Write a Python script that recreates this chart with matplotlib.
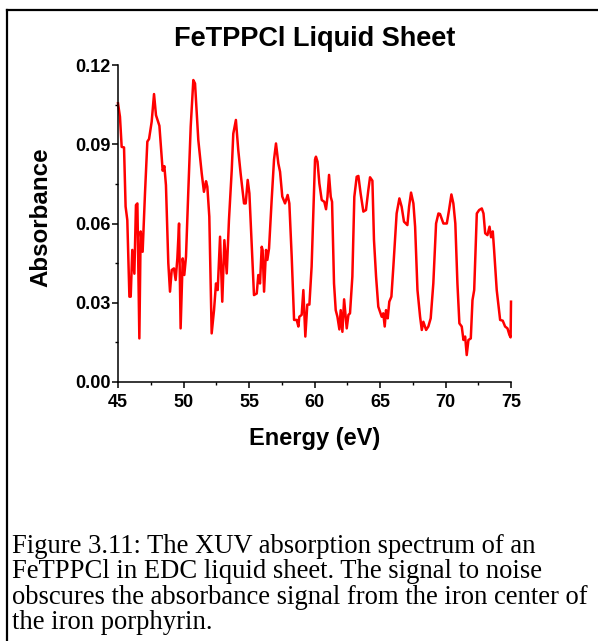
import matplotlib
matplotlib.use("Agg")
import matplotlib.pyplot as plt
from matplotlib.lines import Line2D
from matplotlib.ticker import MultipleLocator, FormatStrFormatter

# photon energy (eV) and absorbance of the FeTPPCl liquid sheet
energy = [
    45.00, 45.15, 45.28, 45.46, 45.58, 45.71, 45.87, 45.97, 46.09, 46.25,
    46.37, 46.48, 46.63, 46.73, 46.88, 47.06, 47.24, 47.37, 47.57, 47.75,
    47.90, 48.16, 48.41, 48.54, 48.66, 48.84, 48.97, 49.10, 49.27, 49.40,
    49.53, 49.66, 49.78, 49.94, 50.06, 50.19, 50.37, 50.55, 50.75, 50.88,
    51.13, 51.39, 51.56, 51.72, 51.82, 51.97, 52.15, 52.33, 52.48, 52.61,
    52.79, 52.96, 53.12, 53.30, 53.47, 53.68, 53.80, 54.00, 54.18, 54.36,
    54.62, 54.75, 54.90, 55.03, 55.20, 55.38, 55.59, 55.71, 55.84, 55.97,
    56.04, 56.15, 56.30, 56.40, 56.53, 56.73, 56.91, 57.06, 57.24, 57.37,
    57.54, 57.75, 57.95, 58.08, 58.26, 58.44, 58.64, 58.77, 58.84, 59.02,
    59.15, 59.30, 59.45, 59.61, 59.78, 60.04, 60.11, 60.23, 60.37, 60.55,
    60.75, 60.88, 60.99, 61.11, 61.24, 61.34, 61.49, 61.62, 61.75, 61.90,
    62.00, 62.13, 62.26, 62.46, 62.59, 62.71, 62.89, 63.04, 63.22, 63.35,
    63.52, 63.73, 63.93, 64.11, 64.24, 64.42, 64.54, 64.70, 64.87, 65.13,
    65.25, 65.36, 65.46, 65.59, 65.71, 65.87, 66.02, 66.27, 66.48, 66.65,
    66.83, 67.09, 67.22, 67.37, 67.55, 67.68, 67.86, 68.06, 68.19, 68.31,
    68.52, 68.69, 68.87, 69.07, 69.28, 69.46, 69.58, 69.84, 70.10, 70.27,
    70.45, 70.60, 70.75, 70.91, 71.06, 71.24, 71.37, 71.50, 71.62, 71.75,
    71.93, 72.06, 72.19, 72.39, 72.57, 72.77, 72.90, 73.03, 73.20, 73.36,
    73.48, 73.61, 73.71, 73.91, 74.17, 74.37, 74.55, 74.73, 74.88, 74.97,
    75.00,
]
absorbance = [
    0.1055, 0.1004, 0.0890, 0.0888, 0.0664, 0.0613, 0.0323, 0.0323, 0.0500, 0.0410,
    0.0670, 0.0676, 0.0165, 0.0570, 0.0493, 0.0714, 0.0910, 0.0920, 0.0985, 0.1090,
    0.1010, 0.0970, 0.0800, 0.0817, 0.0745, 0.0450, 0.0342, 0.0424, 0.0430, 0.0386,
    0.0468, 0.0600, 0.0203, 0.0468, 0.0405, 0.0474, 0.0727, 0.0967, 0.1143, 0.1130,
    0.0916, 0.0790, 0.0720, 0.0760, 0.0739, 0.0626, 0.0184, 0.0272, 0.0373, 0.0348,
    0.0550, 0.0304, 0.0537, 0.0411, 0.0613, 0.0800, 0.0940, 0.0992, 0.0878, 0.0790,
    0.0676, 0.0676, 0.0765, 0.0714, 0.0524, 0.0329, 0.0335, 0.0405, 0.0373, 0.0512,
    0.0500, 0.0342, 0.0500, 0.0462, 0.0506, 0.0689, 0.0842, 0.0903, 0.0827, 0.0796,
    0.0702, 0.0676, 0.0708, 0.0676, 0.0474, 0.0235, 0.0235, 0.0210, 0.0247, 0.0254,
    0.0348, 0.0172, 0.0293, 0.0293, 0.0437, 0.0842, 0.0853, 0.0834, 0.0752, 0.0689,
    0.0682, 0.0654, 0.0701, 0.0784, 0.0701, 0.0682, 0.0373, 0.0272, 0.0247, 0.0199,
    0.0272, 0.0190, 0.0313, 0.0203, 0.0254, 0.0260, 0.0399, 0.0701, 0.0777, 0.0780,
    0.0714, 0.0645, 0.0651, 0.0727, 0.0775, 0.0762, 0.0538, 0.0399, 0.0285, 0.0247,
    0.0260, 0.0210, 0.0272, 0.0241, 0.0304, 0.0323, 0.0437, 0.0638, 0.0695, 0.0664,
    0.0607, 0.0594, 0.0664, 0.0717, 0.0676, 0.0588, 0.0348, 0.0247, 0.0197, 0.0228,
    0.0197, 0.0210, 0.0241, 0.0373, 0.0600, 0.0638, 0.0636, 0.0600, 0.0600, 0.0651,
    0.0710, 0.0676, 0.0600, 0.0373, 0.0222, 0.0210, 0.0159, 0.0172, 0.0102, 0.0159,
    0.0165, 0.0310, 0.0348, 0.0638, 0.0651, 0.0657, 0.0638, 0.0563, 0.0556, 0.0588,
    0.0548, 0.0570, 0.0500, 0.0348, 0.0235, 0.0232, 0.0210, 0.0203, 0.0178, 0.0169,
    0.0304,
]

caption_lines = [
    "Figure 3.11: The XUV absorption spectrum of an",
    "FeTPPCl in EDC liquid sheet. The signal to noise",
    "obscures the absorbance signal from the iron center of",
    "the iron porphyrin.",
]

W, H = 598, 641
fig = plt.figure(figsize=(W / 100, H / 100), dpi=100)

# axes box in pixel coordinates
x0, x1 = 118, 511
y_top, y_bot = 65, 382
ax = fig.add_axes([x0 / W, 1 - y_bot / H, (x1 - x0) / W, (y_bot - y_top) / H])

ax.plot(energy, absorbance, color="red", lw=1.8, clip_on=False)
ax.set_xlim(45, 75)
ax.set_ylim(0, 0.12)

for s in ["top", "right"]:
    ax.spines[s].set_visible(False)
for s in ["left", "bottom"]:
    ax.spines[s].set_linewidth(1.1)

ax.xaxis.set_major_locator(MultipleLocator(5))
ax.xaxis.set_minor_locator(MultipleLocator(2.5))
ax.yaxis.set_major_locator(MultipleLocator(0.03))
ax.yaxis.set_minor_locator(MultipleLocator(0.015))
ax.yaxis.set_major_formatter(FormatStrFormatter("%.2f"))
ax.tick_params(which="major", length=4.5, width=1.1, direction="out")
ax.tick_params(which="minor", length=2.5, width=1.0, direction="out")
ax.tick_params(axis="y", which="major", pad=1.0)
ax.tick_params(axis="x", which="major", pad=4)

font = "Liberation Sans"
for lab in ax.get_xticklabels() + ax.get_yticklabels():
    lab.set_fontfamily(font)
    lab.set_fontweight("bold")
    lab.set_fontsize(13)

fig.text((x0 + x1) / 2 / W, 1 - 39 / H, "FeTPPCl Liquid Sheet", ha="center", va="center",
         family=font, weight="bold", fontsize=19.5)
fig.text((x0 + x1) / 2 / W, 1 - 438 / H, "Energy (eV)", ha="center", va="center",
         family=font, weight="bold", fontsize=17)
fig.text(41 / W, 1 - 217 / H, "Absorbance", ha="center", va="center", rotation=90,
         family=font, weight="bold", fontsize=17.4)

# caption under the plot
for i, line in enumerate(caption_lines):
    fig.text(12 / W, 1 - (553 + 25.4 * i) / H, line, ha="left", va="baseline",
             family="Liberation Serif", fontsize=19.2)

# frame lines along the top and left edges
fig.add_artist(Line2D([7 / W, 7 / W], [0, 1 - 10 / H], transform=fig.transFigure,
                      color="black", lw=1.6))
fig.add_artist(Line2D([7 / W, 1], [1 - 10 / H, 1 - 10 / H], transform=fig.transFigure,
                      color="black", lw=1.6))

fig.savefig("out.png", dpi=100)
